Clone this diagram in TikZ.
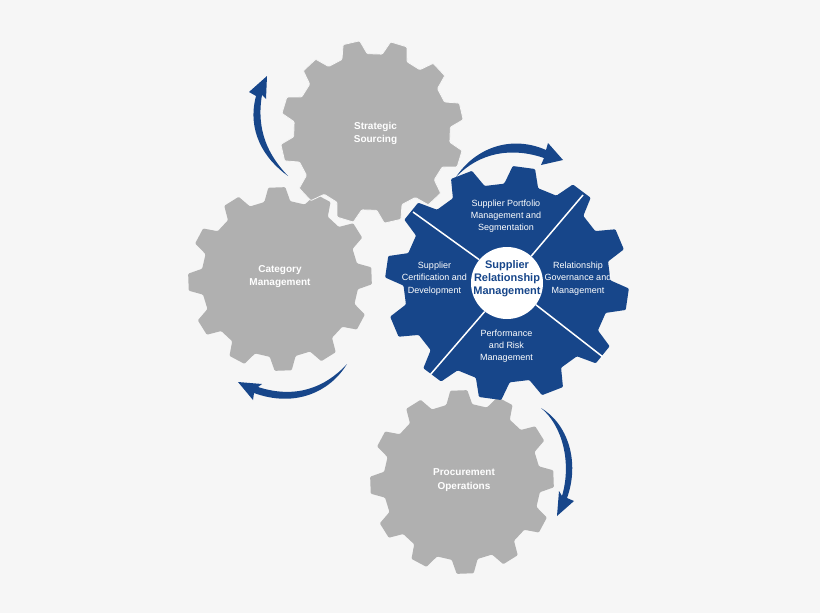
\documentclass[tikz,border=0pt]{standalone}
\usepackage{fontspec}
\setmainfont{Liberation Sans}
\definecolor{pagebg}{HTML}{F6F6F6}
\definecolor{gearGray}{HTML}{B0B0B0}
\definecolor{srmBlue}{HTML}{17468A}
\newcommand{\gearShape}[7]{% centre x,y; outer r; root r; offset; yscale; style
 \path[#7,shift={(#1,#2)},yscale=#6,rounded corners=1pt]
  (#5-9.5:#4)
  \foreach \k in {0,...,11}{
    -- ({#5+\k*30-9.5}:#4) -- ({#5+\k*30-5.3}:#3) -- ({#5+\k*30+5.3}:#3) -- ({#5+\k*30+9.5}:#4)
  } -- cycle;
}
\tikzset{
 x=1pt,y=-1pt,
 graygear/.style={fill=gearGray},
 graytop/.style={fill=gearGray,draw=pagebg,line width=0.8pt},
 bluegear/.style={fill=srmBlue},
 graylabel/.style={text=white,font=\bfseries\fontsize{10}{13.5}\selectfont,align=center,inner sep=0pt},
 bluelabel/.style={text=white,font=\fontsize{9}{12.3}\selectfont,align=center,inner sep=0pt},
 hubnode/.style={circle,fill=white,minimum size=72pt,inner sep=0pt},
 hublabel/.style={text=srmBlue,font=\bfseries\fontsize{11}{13.3}\selectfont,align=center,inner sep=0pt},
 divider/.style={draw=white,line width=1.5pt},
 cyclearrow/.style={fill=srmBlue}
}
\begin{document}
\begin{tikzpicture}
\useasboundingbox[fill=pagebg] (0,0) rectangle (820,613);
\gearShape{280}{279}{92}{78.5}{-92}{1}{graygear}
\gearShape{372}{132}{92}{78.5}{-103}{1}{graytop}
\gearShape{462}{482}{92}{78.5}{-92}{1}{graygear}
\gearShape{507}{283}{122}{103.5}{-82}{0.96}{bluegear}
\node[hubnode] (hub) at (507,283) {};
\node[hublabel] (hubtext) at (507,278.5) {Supplier\\Relationship\\Management};
\coordinate (d1) at (413,212);
\coordinate (d2) at (583,195);
\coordinate (d3) at (603,357);
\coordinate (d4) at (430,375);
\draw[divider] (hub.140) -- (d1);
\draw[divider] (hub.48) -- (d2);
\draw[divider] (hub.-37) -- (d3);
\draw[divider] (hub.-128) -- (d4);
\node[graylabel] (strategic) at (375.5,133.5) {Strategic\\Sourcing};
\node[graylabel] (category) at (280,276.5) {Category\\Management};
\node[graylabel] (procurement) at (464,480) {Procurement\\Operations};
\node[bluelabel] (portfolio) at (506,216) {Supplier Portfolio\\Management and\\Segmentation};
\node[bluelabel] (governance) at (578,278.5) {Relationship\\Governance and\\Management};
\node[bluelabel] (certification) at (434.5,278.5) {Supplier\\Certification and\\Development};
\node[bluelabel] (performance) at (506.5,346) {Performance\\and Risk\\Management};
% curved arrows
\fill[cyclearrow] (288,176) .. controls (263,158) and (247,130) .. (256,96) -- (249,92) -- (267,76) -- (266,99) -- (262,95) .. controls (256,130) and (268,155) .. (288,176) -- cycle;
\fill[cyclearrow] (456,177) .. controls (476,147) and (512,135) .. (546,150) -- (548,143) -- (563,160) -- (541,165) -- (544,158) .. controls (512,147) and (480,152) .. (456,177) -- cycle;
\fill[cyclearrow] (347,364) .. controls (330,392) and (295,408) .. (254,393) -- (253,400) -- (238,382) -- (262,384) -- (258,387) .. controls (295,399) and (325,388) .. (347,364) -- cycle;
\fill[cyclearrow] (541,408) .. controls (568,424) and (580,462) .. (567,498) -- (574,501) -- (557,516) -- (559,491) -- (562,496) .. controls (572,462) and (562,425) .. (541,408) -- cycle;
\end{tikzpicture}
\end{document}
